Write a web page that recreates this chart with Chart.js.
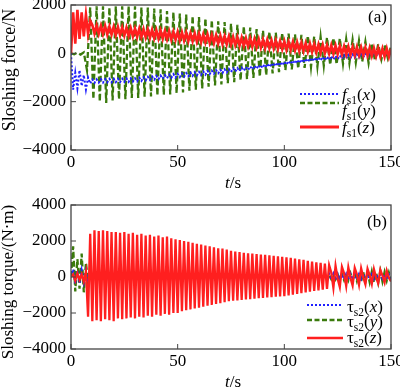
<!DOCTYPE html>
<html><head><meta charset="utf-8">
<script src="https://cdn.jsdelivr.net/npm/chart.js@4.4.0/dist/chart.umd.min.js"></script>
<style>
html,body{margin:0;padding:0;background:#fff;}
canvas{display:block;}
</style></head><body>
<canvas id="c1" width="400" height="192"></canvas>
<canvas id="c2" width="400" height="196"></canvas>
<script>
// ---------- DATA ----------
// sample steps in seconds
const stepForceX = 1, stepForceY = 1.5, stepForceZ = 1, stepTorque = 1;
const xTicks = [0, 50, 100, 150];

// (a) sloshing force f_s1, N
const forceX = [
 0,-1500,-800,-1450,-700,-1350,-900,-1500,-1000,-1250,
 -1080,-1220,-1075,-1210,-1070,-1210,-1065,-1200,-1060,-1200,
 -1055,-1190,-1050,-1190,-1045,-1180,-1040,-1180,-1035,-1170,
 -1030,-1160,-1010,-1140,-990,-1120,-970,-1100,-955,-1085,
 -935,-1065,-920,-1050,-900,-1030,-880,-1015,-865,-1000,
 -850,-980,-830,-965,-815,-945,-800,-930,-780,-910,
 -765,-895,-745,-880,-730,-860,-715,-845,-695,-825,
 -680,-810,-660,-790,-645,-775,-625,-755,-610,-740,
 -590,-715,-565,-690,-540,-665,-515,-640,-490,-615,
 -465,-590,-440,-565,-415,-540,-390,-515,-365,-495,
 -340,-470,-320,-445,-295,-425,-270,-400,-250,-380,
 -225,-355,-205,-330,-180,-315,-165,-300,-150,-285,
 -135,-270,-120,-255,-105,-240,-90,-225,-75,-210,
 -60,-195,-45,-180,-35,-165,-20,-155,-5,-140,
 5,-125,20,-115,30,-105,40,-95,50,-85,60];
const forceY = [
 0,-40,30,-50,40,-700,1900,-1900,1950,-2000,
 1950,-2050,1900,-1950,1950,-1900,1950,-1900,1950,-1850,
 1950,-1850,1900,-1800,1900,-1780,1850,-1750,1820,-1720,
 1750,-1700,1700,-1650,1650,-1620,1600,-1550,1550,-1500,
 1500,-1450,1450,-1380,1380,-1330,1330,-1290,1290,-1240,
 1230,-1190,1180,-1120,1120,-1070,1070,-1020,1000,-970,
 950,-900,900,-830,860,-780,850,-700,820,-660,
 790,-630,760,-600,730,-560,700,-540,680,-510,
 660,-480,640,-460,620,-430,590,-400,560,-380,
 520,-350,480,-400,420,-300,380,-250,330,-200,
 300];
const forceZ = [
 0,1700,400,1800,600,1700,700,1600,800,1350,
 1170,820,1160,810,1140,800,1130,780,1110,770,
 1100,750,1090,740,1070,730,1060,710,1040,700,
 1030,680,1020,670,1000,660,990,640,970,630,
 960,610,950,600,930,590,920,570,900,560,
 890,540,870,530,860,510,840,500,830,480,
 810,460,790,450,780,430,760,420,750,400,
 730,380,710,370,700,350,680,340,670,320,
 650,300,630,290,620,270,600,260,590,240,
 570,220,560,210,540,200,530,180,510,170,
 500,150,480,140,470,120,450,100,440,90,
 420,70,400,60,390,40,370,20,360,10,
 340,-10,330,-20,320,-30,300,-40,290,-50,
 280,-60,270,-70,260,-80,250,-90,240,-100,
 230,-110,220,-120,210,-130,200,-140,200,-150,190];

// (b) sloshing torque tau_s2, N·m
const torqueX = [
 0,420,-380,350,-320,380,-300,320,-280,330,
 -300,340,-290,350,-300,340,-290,350,-300,340,
 -290,340,-300,330,-290,340,-280,330,-290,330,
 -280,330,-290,320,-280,330,-280,320,-270,320,
 -280,310,-270,320,-270,310,-260,310,-270,300,
 -260,300,-260,300,-250,290,-260,290,-250,290,
 -250,280,-240,290,-240,280,-240,270,-230,280,
 -230,270,-230,260,-220,270,-220,260,-220,250,
 -210,260,-210,250,-210,240,-200,250,-200,240,
 -200,230,-190,240,-190,230,-190,220,-180,230,
 -180,220,-180,210,-170,220,-170,210,-170,200,
 -160,210,-160,200,-160,190,-150,200,-150,190,
 -150,180,-140,190,-140,180,-140,170,-130,180,
 -130,170,-130,160,-120,170,-120,160,-120,150,
 -110,160,-110,150,-110,140,-100,150,-100,140,-90];
const torqueY = [
 0,1700,-800,1000,-650,1300,-850,800,-300,200,
 -150,130,-120,140,-130,120,-140,130,-120,140,
 -130,120,-140,130,-120,140,-130,120,-130,130,
 -120,130,-130,120,-120,130,-120,120,-130,120,
 -120,130,-120,120,-110,120,-120,110,-120,120,
 -110,120,-110,110,-120,110,-110,120,-110,110,
 -100,110,-110,100,-110,110,-100,100,-110,100,
 -100,110,-100,100,-100,100,-90,100,-100,90,
 -90,100,-90,90,-100,90,-90,90,-90,90,
 -90,90,-80,90,-90,80,-90,90,-80,80,
 -90,80,-80,90,-80,80,-80,80,-90,80,
 -80,90,-80,80,-90,90,-80,90,-100,100,
 -100,110,-120,120,-130,140,-150,160,-170,180,
 -180,200,-200,220,-210,240,-250,260,-260,280,
 -280,300,-300,250,-320,330,-250,280,-200,250,-150];
const torqueZ = [
 0,150,-200,200,-150,150,-250,300,-2200,2400,
 -2450,2600,-2400,2550,-2450,2600,-2350,2550,-2400,2500,
 -2450,2500,-2300,2450,-2350,2500,-2300,2400,-2250,2450,
 -2300,2350,-2200,2400,-2250,2300,-2150,2350,-2200,2250,
 -2100,2300,-2150,2200,-2050,2250,-2100,2150,-2000,2100,
 -2000,2050,-1900,2000,-1850,1950,-1800,1900,-1750,1850,
 -1700,1800,-1650,1750,-1600,1700,-1550,1650,-1500,1600,
 -1450,1580,-1400,1520,-1350,1450,-1320,1420,-1300,1380,
 -1280,1350,-1250,1320,-1230,1300,-1200,1280,-1180,1250,
 -1160,1230,-1140,1200,-1120,1180,-1100,1150,-1080,1120,
 -1060,1100,-1020,1060,-980,1020,-940,980,-900,950,
 -860,900,-820,860,-780,820,-740,780,-700,740,
 -660,660,250,-600,620,-100,-560,560,200,-500,
 540,-50,-470,500,150,-430,480,-20,-400,460,
 100,-380,430,-30,-350,400,80,-300,350,-50,-250];

// ---------- STYLE ----------
const FONT = "'Liberation Serif','Times New Roman',serif";
const RED = '#ff1f1f', GREEN = '#3a7a0c', BLUE = '#1f1fff', FRAME = '#444';
const TICK_SIZE = 17;

function pts(arr, step) { return arr.map((v, i) => ({ x: i * step, y: v })); }
function tickLabel(v) { return v < 0 ? '\u2212' + Math.abs(v) : String(v); }
function noPad(s) { s.paddingTop = 0; s.paddingBottom = 0; s.paddingLeft = 0; s.paddingRight = 0; }

function drawRich(ctx, x, y, parts) {
  let cx = x;
  ctx.textAlign = 'left';
  ctx.textBaseline = 'alphabetic';
  for (const [t, size, it, dy] of parts) {
    ctx.font = (it ? 'italic ' : '') + size + 'px ' + FONT;
    ctx.fillText(t, cx, y + (dy || 0));
    cx += ctx.measureText(t).width;
  }
  return cx;
}

function decoPlugin(cfg) {
  return {
    id: 'deco',
    afterDatasetsDraw(chart) {
      const { ctx, chartArea: a, scales } = chart;
      ctx.save();
      ctx.strokeStyle = FRAME; ctx.lineWidth = 1.3; ctx.setLineDash([]);
      ctx.strokeRect(a.left, a.top, a.right - a.left, a.bottom - a.top);
      ctx.lineWidth = 1;
      ctx.beginPath();
      scales.x.ticks.forEach(t => { const p = scales.x.getPixelForValue(t.value); ctx.moveTo(p, a.bottom); ctx.lineTo(p, a.bottom - 5); });
      scales.y.ticks.forEach(t => { const p = scales.y.getPixelForValue(t.value); ctx.moveTo(a.left, p); ctx.lineTo(a.left + 5, p); });
      ctx.stroke();
      ctx.fillStyle = '#000';
      ctx.save();
      ctx.translate(cfg.yTitleX, cfg.yTitleY);
      ctx.rotate(-Math.PI / 2);
      ctx.textAlign = 'center'; ctx.textBaseline = 'middle';
      ctx.font = cfg.yTitleSize + 'px ' + FONT;
      ctx.fillText(cfg.yTitle, 0, 0);
      ctx.restore();
      ctx.font = 'italic 17px ' + FONT;
      const wt = ctx.measureText('t').width;
      ctx.font = '17px ' + FONT;
      const ws = ctx.measureText('/s').width;
      drawRich(ctx, cfg.xTitleX - (wt + ws) / 2, cfg.xTitleY, [['t', 17, true], ['/s', 17, false]]);
      ctx.font = '17px ' + FONT; ctx.textAlign = 'left'; ctx.textBaseline = 'alphabetic';
      ctx.fillText(cfg.panel, cfg.panelX, cfg.panelY);
      for (const e of cfg.legend) {
        ctx.save();
        ctx.strokeStyle = e.color; ctx.lineWidth = e.width; ctx.setLineDash(e.dash);
        ctx.beginPath(); ctx.moveTo(cfg.legX0, e.ly); ctx.lineTo(cfg.legX1, e.ly); ctx.stroke();
        ctx.restore();
        ctx.fillStyle = '#000';
        drawRich(ctx, cfg.legTextX, e.ty, [[cfg.sym, 17, cfg.symItalic], [cfg.sub, 11.5, false, 4], ['(', 17, false], [e.arg, 17, true], [')', 17, false]]);
      }
      ctx.restore();
    }
  };
}

function makeChart(id, datasets, yMin, yMax, canvasH, plotTop, plotBottom, deco) {
  return new Chart(document.getElementById(id), {
    type: 'line',
    data: { datasets },
    options: {
      responsive: false, animation: false, devicePixelRatio: 1,
      layout: { padding: { left: 0, right: 9, top: plotTop, bottom: 0 }, autoPadding: false },
      plugins: { legend: { display: false }, tooltip: { enabled: false } },
      elements: { point: { radius: 0 }, line: { tension: 0, fill: false } },
      scales: {
        x: {
          type: 'linear', min: xTicks[0], max: xTicks[xTicks.length - 1],
          afterBuildTicks: s => { s.ticks = xTicks.map(v => ({ value: v })); },
          ticks: { color: '#000', font: { family: FONT, size: TICK_SIZE }, padding: 2, maxRotation: 0, autoSkip: false },
          grid: { display: false, drawTicks: false }, border: { display: false },
          afterFit: s => { s.height = canvasH - plotBottom; noPad(s); }
        },
        y: {
          min: yMin, max: yMax,
          ticks: { stepSize: 2000, callback: tickLabel, color: '#000', font: { family: FONT, size: TICK_SIZE }, padding: 5 },
          grid: { display: false, drawTicks: false }, border: { display: false },
          afterFit: s => { s.width = 71; noPad(s); }
        }
      }
    },
    plugins: [decoPlugin(deco)]
  });
}

makeChart('c1', [
  { data: pts(forceZ, stepForceZ), borderColor: RED, borderWidth: 2.6, order: 0 },
  { data: pts(forceX, stepForceX), borderColor: BLUE, borderWidth: 2, borderDash: [2, 2], order: 1 },
  { data: pts(forceY, stepForceY), borderColor: GREEN, borderWidth: 2.3, borderDash: [6, 3], order: 2 }
], -4000, 2000, 192, 5, 150, {
  yTitle: 'Sloshing force/N', yTitleX: 10, yTitleY: 70, yTitleSize: 18,
  xTitleX: 233, xTitleY: 188, panel: '(a)', panelX: 368, panelY: 22,
  sym: 'f', symItalic: true, sub: 's1', legX0: 300, legX1: 339, legTextX: 342,
  legend: [
    { color: BLUE, width: 2, dash: [2, 2], ly: 94, arg: 'x', ty: 100 },
    { color: GREEN, width: 2.5, dash: [5, 2.5], ly: 103, arg: 'y', ty: 116 },
    { color: RED, width: 3, dash: [], ly: 127, arg: 'z', ty: 133 }
  ]
});

makeChart('c2', [
  { data: pts(torqueZ, stepTorque), borderColor: RED, borderWidth: 2.3, order: 0 },
  { data: pts(torqueX, stepTorque), borderColor: BLUE, borderWidth: 2, borderDash: [2, 2], order: 1 },
  { data: pts(torqueY, stepTorque), borderColor: GREEN, borderWidth: 2.3, borderDash: [6, 3], order: 2 }
], -4000, 4000, 196, 13, 157, {
  yTitle: 'Sloshing torque/(N\u00B7m)', yTitleX: 9, yTitleY: 90, yTitleSize: 17,
  xTitleX: 233, xTitleY: 195, panel: '(b)', panelX: 367, panelY: 35,
  sym: '\u03C4', symItalic: false, sub: 's2', legX0: 307, legX1: 343, legTextX: 347,
  legend: [
    { color: BLUE, width: 2, dash: [2, 2], ly: 113, arg: 'x', ty: 120 },
    { color: GREEN, width: 2.5, dash: [5, 2.5], ly: 128, arg: 'y', ty: 135 },
    { color: RED, width: 2.5, dash: [], ly: 146, arg: 'z', ty: 151 }
  ]
});
</script>
</body></html>
